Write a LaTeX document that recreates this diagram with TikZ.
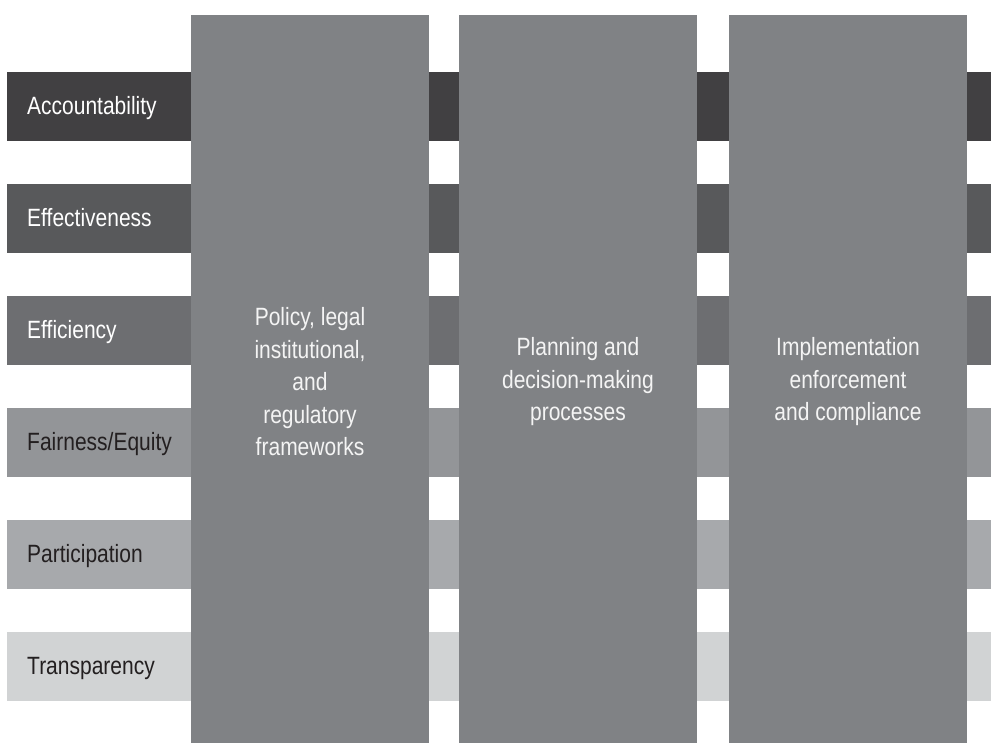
\documentclass[tikz,border=0pt]{standalone}
\usepackage{fontspec}
\setmainfont{Liberation Sans}[FakeStretch=0.84]
\definecolor{cA}{HTML}{414042}
\definecolor{cB}{HTML}{58595B}
\definecolor{cC}{HTML}{6D6E71}
\definecolor{cD}{HTML}{939598}
\definecolor{cE}{HTML}{A7A9AC}
\definecolor{cF}{HTML}{D1D3D4}
\definecolor{colgray}{HTML}{808285}
\definecolor{darktext}{HTML}{231F20}
\definecolor{lighttext}{HTML}{F4F4F4}
\tikzset{
  bar/.style={draw=none, rectangle, inner sep=0pt, minimum width=984pt, minimum height=69pt, anchor=north west},
  col/.style={draw=none, rectangle, fill=colgray, inner sep=0pt, minimum width=238pt, minimum height=728pt, anchor=north west},
  lbl/.style={inner sep=0pt, anchor=base west, font=\fontsize{25}{30}\selectfont},
  coltext/.style={inner sep=0pt, align=center, text=lighttext, font=\fontsize{25}{32.5}\selectfont}
}
\begin{document}
\begin{tikzpicture}[x=1pt,y=-1pt]
\useasboundingbox (0,0) rectangle (991,743);
\fill[white] (0,0) rectangle (991,743);
% horizontal bars
\node[bar, fill=cA] (b1) at (7,72) {};
\node[bar, fill=cB] (b2) at (7,184) {};
\node[bar, fill=cC] (b3) at (7,296) {};
\node[bar, fill=cD] (b4) at (7,408) {};
\node[bar, fill=cE] (b5) at (7,520) {};
\node[bar, fill=cF] (b6) at (7,632) {};
% labels
\node[lbl, text=white] (l1) at (27,114.5) {Accountability};
\node[lbl, text=white] (l2) at (27,226.5) {Effectiveness};
\node[lbl, text=white] (l3) at (27,338.5) {Efficiency};
\node[lbl, text=darktext] (l4) at (27,450.5) {Fairness/Equity};
\node[lbl, text=darktext] (l5) at (27,562.5) {Participation};
\node[lbl, text=darktext] (l6) at (27,674.5) {Transparency};
% columns
\node[col] (c1) at (191,15) {};
\node[col] (c2) at (459,15) {};
\node[col] (c3) at (729,15) {};
% column texts
\node[coltext] (t1) at (310,382) {Policy, legal\\institutional,\\and\\regulatory\\frameworks};
\node[coltext] (t2) at (578,382) {Planning and\\decision-making\\processes};
\node[coltext] (t3) at (848,382) {Implementation\\enforcement\\and compliance};
\end{tikzpicture}
\end{document}
